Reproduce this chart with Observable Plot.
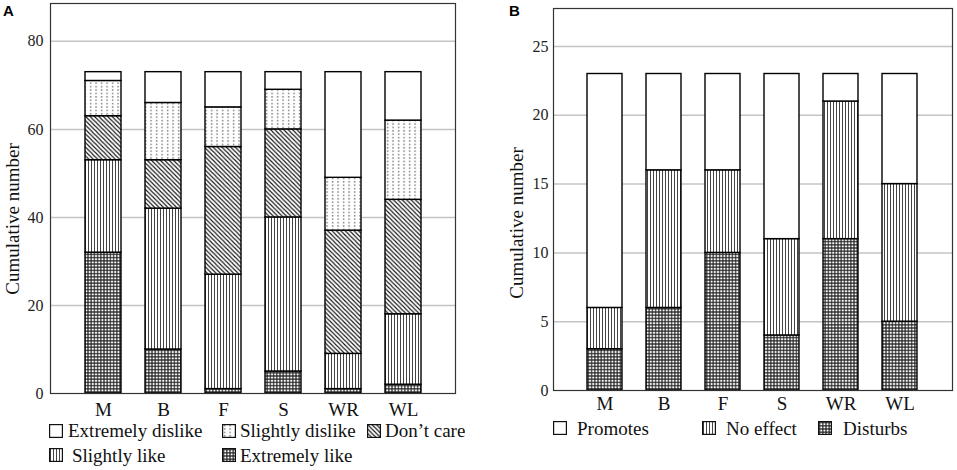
<!DOCTYPE html>
<html><head><meta charset="utf-8">
<script src="https://cdn.jsdelivr.net/npm/d3@7"></script>
<script src="https://cdn.jsdelivr.net/npm/@observablehq/plot@0.6"></script>
<style>
html,body{margin:0;padding:0;background:#fff;}
#root{position:relative;width:957px;height:470px;overflow:hidden;background:#fff;font-family:"Liberation Serif","Times New Roman",serif;}
#root svg{max-width:none !important;}
.abs{position:absolute;}
.letter{position:absolute;font-family:"Liberation Sans",Arial,sans-serif;font-weight:bold;font-size:15px;line-height:1;color:#000;}
.ylab{position:absolute;font-size:19px;line-height:1;white-space:nowrap;color:#111;transform:translate(-50%,-50%) rotate(-90deg);}
.leg{position:absolute;font-size:19px;line-height:1;white-space:nowrap;color:#111;}
.sw{position:absolute;}
</style></head><body>
<svg width="0" height="0" style="position:absolute">
<defs>
<pattern id="pDots" patternUnits="userSpaceOnUse" width="5.5" height="3.4"><rect width="5.5" height="3.4" fill="#fff"/><rect x="2" y="0.8" width="1.2" height="1.6" fill="#6a6a6a"/></pattern>
<pattern id="pDiag" patternUnits="userSpaceOnUse" width="4.4" height="4.4"><rect width="4.4" height="4.4" fill="#fff"/><path d="M-1,-1L5.4,5.4M3.4,-1L5.4,1M-1,3.4L1,5.4" stroke="#111" stroke-width="1.1"/></pattern>
<pattern id="pVert" patternUnits="userSpaceOnUse" width="3" height="3"><rect width="3" height="3" fill="#fff"/><line x1="1.5" y1="0" x2="1.5" y2="3" stroke="#444" stroke-width="1"/></pattern>
<pattern id="pGrid" patternUnits="userSpaceOnUse" width="3.2" height="3.2"><rect width="3.2" height="3.2" fill="#fff"/><path d="M0,1.6H3.2M1.6,0V3.2" stroke="#222" stroke-width="1.15"/></pattern>
</defs></svg>
<div id="root"></div>
<script>
// ---- Data ----
const categories = ["M", "B", "F", "S", "WR", "WL"];

// Panel A (bottom to top)
const seriesA = ["Extremely like", "Slightly like", "Don’t care", "Slightly dislike", "Extremely dislike"];
const extremelyLike    = [32, 10, 1, 5, 1, 2];
const slightlyLike     = [21, 32, 26, 35, 8, 16];
const dontCare         = [10, 11, 29, 20, 28, 26];
const slightlyDislike  = [8, 13, 9, 9, 12, 18];
const extremelyDislike = [2, 7, 8, 4, 24, 11];
const yTicksA = [0, 20, 40, 60, 80];

// Panel B (bottom to top)
const seriesB = ["Disturbs", "No effect", "Promotes"];
const disturbs = [3, 6, 10, 4, 11, 5];
const noEffect = [3, 10, 6, 7, 10, 10];
const promotes = [17, 7, 7, 12, 2, 8];
const yTicksB = [0, 5, 10, 15, 20, 25];

const legendRowsA = [["Extremely dislike", "Slightly dislike", "Don’t care"], ["Slightly like", "Extremely like"]];
const legendB = ["Promotes", "No effect", "Disturbs"];

// ---- Styles for series ----
const fillOf = {
  "Extremely like": "url(#pGrid)", "Slightly like": "url(#pVert)", "Don’t care": "url(#pDiag)",
  "Slightly dislike": "url(#pDots)", "Extremely dislike": "#fff",
  "Disturbs": "url(#pGrid)", "No effect": "url(#pVert)", "Promotes": "#fff"
};

const valuesA = [extremelyLike, slightlyLike, dontCare, slightlyDislike, extremelyDislike];
const tableA = seriesA.flatMap((s, i) => categories.map((c, j) => ({category: c, series: s, value: valuesA[i][j]})));
const valuesB = [disturbs, noEffect, promotes];
const tableB = seriesB.flatMap((s, i) => categories.map((c, j) => ({category: c, series: s, value: valuesB[i][j]})));

const root = document.getElementById("root");
const serif = '"Liberation Serif", "Times New Roman", serif';

function makePlot(table, series, ticks, opts) {
  return Plot.plot({
    width: opts.width, height: 420,
    marginLeft: opts.ml, marginRight: opts.mr, marginTop: opts.mt, marginBottom: opts.mb,
    style: {fontFamily: serif, fontSize: "16px", color: "#222", background: "transparent", overflow: "visible", maxWidth: "none"},
    x: {domain: categories, paddingInner: opts.pi, paddingOuter: opts.po, label: null},
    y: {domain: [0, opts.ymax], label: null},
    color: {domain: series, range: series.map(s => fillOf[s])},
    marks: [
      Plot.gridY(ticks.filter(t => t > 0), {stroke: "#c4c4c4", strokeOpacity: 1, strokeWidth: 1.5}),
      Plot.barY(table, {x: "category", y: "value", fill: "series", stroke: "#000", strokeWidth: 1.4}),
      Plot.axisY({ticks, tickSize: 0, tickPadding: opts.typad, fontSize: 16, label: null, fill: "#222"}),
      Plot.axisX({tickSize: 0, tickPadding: opts.txpad, fontSize: 19, label: null, fill: "#111"}),
      Plot.frame({stroke: "#333", strokeWidth: 1.2})
    ]
  });
}

const plotA = makePlot(tableA, seriesA, yTicksA, {width: 478, ml: 50, mr: 23, mt: 3, mb: 27, pi: 0.407, po: 0.544, ymax: 88.6, typad: 7, txpad: 9});
const plotB = makePlot(tableB, seriesB, yTicksB, {width: 479, ml: 75, mr: 5, mt: 8, mb: 30, pi: 0.4, po: 0.533, ymax: 27.76, typad: 5, txpad: 6});

const boxA = document.createElement("div");
boxA.className = "abs"; boxA.style.cssText = "left:0;top:0;width:465px;height:470px;overflow:hidden;";
plotA.style.position = "absolute"; plotA.style.left = "0px"; plotA.style.top = "0px";
boxA.appendChild(plotA);
root.appendChild(boxA);

const boxB = document.createElement("div");
boxB.className = "abs"; boxB.style.cssText = "left:478px;top:0;width:479px;height:470px;";
plotB.style.position = "absolute"; plotB.style.left = "0px"; plotB.style.top = "0px";
boxB.appendChild(plotB);
root.appendChild(boxB);

function addText(parent, cls, txt, left, top) {
  const d = document.createElement("div");
  d.className = cls; d.textContent = txt;
  d.style.left = left + "px"; d.style.top = top + "px";
  parent.appendChild(d);
  return d;
}
function addSwatch(parent, name, left, top) {
  const ns = "http://www.w3.org/2000/svg";
  const s = document.createElementNS(ns, "svg");
  s.setAttribute("class", "sw"); s.setAttribute("width", 14); s.setAttribute("height", 14);
  s.style.left = left + "px"; s.style.top = top + "px";
  const r = document.createElementNS(ns, "rect");
  r.setAttribute("x", 0.6); r.setAttribute("y", 0.6); r.setAttribute("width", 12.8); r.setAttribute("height", 12.8);
  r.setAttribute("fill", fillOf[name]); r.setAttribute("stroke", "#111"); r.setAttribute("stroke-width", 1.2);
  s.appendChild(r);
  parent.appendChild(s);
}

// Panel letters and axis labels
addText(root, "letter", "A", 3, 3);
addText(root, "letter", "B", 509, 3);
addText(root, "ylab", "Cumulative number", 12, 219);
addText(root, "ylab", "Cumulative number", 516, 223);

// Legend A
const legAPos = [[[49, 68], [222, 240], [367, 385]], [[49, 72], [222, 240]]];
const legATop = [[424, 421], [448, 445.5]];
legendRowsA.forEach((row, r) => row.forEach((name, k) => {
  addSwatch(boxA, name, legAPos[r][k][0], legATop[r][0]);
  addText(boxA, "leg", name, legAPos[r][k][1], legATop[r][1]);
}));
// Legend B
const legBPos = [[553, 577], [702, 726], [818, 843]];
legendB.forEach((name, k) => {
  addSwatch(root, name, legBPos[k][0], 421);
  addText(root, "leg", name, legBPos[k][1], 418.5);
});
</script>
</body></html>
